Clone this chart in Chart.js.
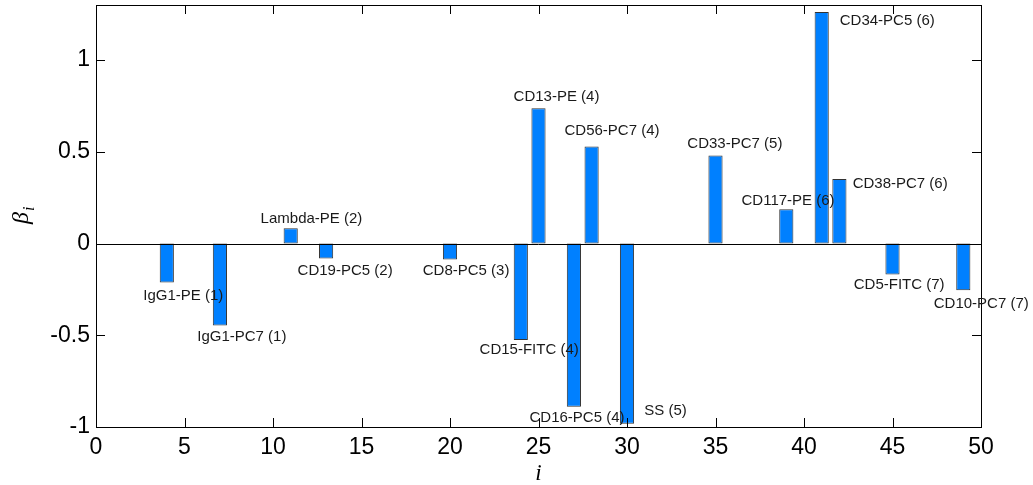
<!DOCTYPE html>
<html>
<head>
<meta charset="utf-8">
<script src="https://cdn.jsdelivr.net/npm/chart.js@4/dist/chart.umd.min.js"></script>
<style>
  html, body { margin: 0; padding: 0; background: #fff; }
  #wrap { width: 1033px; height: 485px; position: relative; }
</style>
</head>
<body>
<div id="wrap"><canvas id="c" width="1033" height="485"></canvas></div>
<script>
// ---- data ----
const barIndex = [4, 7, 11, 13, 20, 24, 25, 27, 28, 30, 35, 39, 41, 42, 45, 49];
const betaValues = [-0.213, -0.447, 0.083, -0.082, -0.087, -0.526, 0.737, -0.889, 0.529, -0.982, 0.480, 0.187, 1.262, 0.351, -0.169, -0.255];

const annoText = ['IgG1-PE (1)', 'IgG1-PC7 (1)', 'Lambda-PE (2)', 'CD19-PC5 (2)', 'CD8-PC5 (3)',
  'CD15-FITC (4)', 'CD13-PE (4)', 'CD16-PC5 (4)', 'CD56-PC7 (4)', 'SS (5)', 'CD33-PC7 (5)',
  'CD117-PE (6)', 'CD34-PC5 (6)', 'CD38-PC7 (6)', 'CD5-FITC (7)', 'CD10-PC7 (7)'];
const annoX = [2.67, 5.72, 9.30, 11.39, 18.46, 21.67, 23.59, 24.49, 26.47, 30.98, 33.41, 36.47, 42.02, 42.75, 42.81, 47.33];
const annoY = [-0.286, -0.510, 0.136, -0.149, -0.149, -0.582, 0.800, -0.949, 0.613, -0.913, 0.542, 0.231, 1.213, 0.327, -0.227, -0.331];

const xTicks = [0, 5, 10, 15, 20, 25, 30, 35, 40, 45, 50];
const yTicks = [-1, -0.5, 0, 0.5, 1];
const yTickLabels = ['-1', '-0.5', '0', '0.5', '1'];

// ---- chart ----
const SANS = '"Liberation Sans", Arial, sans-serif';
const SERIF = '"Liberation Serif", "Times New Roman", serif';

const matlabPlugin = {
  id: 'matlab',
  afterDatasetsDraw(chart) {
    const ctx = chart.ctx;
    const ca = chart.chartArea;
    const xs = chart.scales.x, ys = chart.scales.y;
    ctx.save();
    ctx.strokeStyle = '#000';
    ctx.lineWidth = 1;
    // baseline
    const y0 = Math.round(ys.getPixelForValue(0)) + 0.5;
    ctx.beginPath();
    ctx.moveTo(ca.left, y0); ctx.lineTo(ca.right, y0);
    ctx.stroke();
    // box
    ctx.strokeRect(Math.round(ca.left) + 0.5, Math.round(ca.top) + 0.5,
                   Math.round(ca.right - ca.left), Math.round(ca.bottom - ca.top));
    // inward ticks
    const tl = 9;
    ctx.beginPath();
    xTicks.forEach(v => {
      const px = Math.round(xs.getPixelForValue(v)) + 0.5;
      ctx.moveTo(px, ca.bottom); ctx.lineTo(px, ca.bottom - tl);
      ctx.moveTo(px, ca.top); ctx.lineTo(px, ca.top + tl);
    });
    yTicks.forEach(v => {
      const py = Math.round(ys.getPixelForValue(v)) + 0.5;
      ctx.moveTo(ca.left, py); ctx.lineTo(ca.left + tl, py);
      ctx.moveTo(ca.right, py); ctx.lineTo(ca.right - tl, py);
    });
    ctx.stroke();
    // annotations
    ctx.fillStyle = '#1a1a1a';
    ctx.font = '15px ' + SANS;
    ctx.textAlign = 'left';
    ctx.textBaseline = 'middle';
    annoText.forEach((t, k) => {
      ctx.fillText(t, xs.getPixelForValue(annoX[k]), ys.getPixelForValue(annoY[k]));
    });
    // axis labels
    ctx.fillStyle = '#000';
    ctx.font = 'italic 23px ' + SERIF;
    ctx.textAlign = 'center';
    ctx.textBaseline = 'alphabetic';
    ctx.fillText('i', (ca.left + ca.right) / 2, 480);
    ctx.save();
    ctx.translate(28, (ca.top + ca.bottom) / 2 + 8);
    ctx.rotate(-Math.PI / 2);
    ctx.textAlign = 'left';
    ctx.font = 'italic 24px ' + SERIF;
    ctx.fillText('\u03B2', 0, 0);
    const bw = ctx.measureText('\u03B2').width;
    ctx.font = 'italic 16px ' + SERIF;
    ctx.fillText('i', bw + 1, 6);
    ctx.restore();
    ctx.restore();
  }
};

new Chart(document.getElementById('c'), {
  type: 'bar',
  data: {
    datasets: [{
      data: barIndex.map((x, k) => ({ x: x, y: betaValues[k] })),
      backgroundColor: '#0080ff',
      borderColor: '#333333',
      borderWidth: 1,
      borderSkipped: false,
      barPercentage: 0.8,
      categoryPercentage: 1.0
    }]
  },
  options: {
    responsive: false,
    animation: false,
    layout: { padding: { left: 0, right: 52, top: 5, bottom: 0 } },
    plugins: { legend: { display: false }, tooltip: { enabled: false } },
    scales: {
      x: {
        type: 'linear',
        min: 0, max: 50,
        offset: false,
        grid: { display: false, drawTicks: false },
        border: { display: false },
        afterBuildTicks: s => { s.ticks = xTicks.map(v => ({ value: v })); },
        afterFit: s => { s.height = 58; s.paddingLeft = 0; s.paddingRight = 0; },
        ticks: {
          autoSkip: false, maxRotation: 0, padding: 7,
          color: '#000',
          font: { family: SANS, size: 23 },
          callback: v => String(v)
        }
      },
      y: {
        min: -1, max: 1.300,
        grid: { display: false, drawTicks: false },
        border: { display: false },
        afterBuildTicks: s => { s.ticks = yTicks.map(v => ({ value: v })); },
        afterFit: s => { s.width = 96; s.paddingTop = 0; s.paddingBottom = 0; },
        ticks: {
          padding: 6,
          color: '#000',
          font: { family: SANS, size: 23 },
          callback: v => { const k = yTicks.indexOf(v); return k >= 0 ? yTickLabels[k] : ''; }
        }
      }
    }
  },
  plugins: [matlabPlugin]
});
</script>
</body>
</html>
